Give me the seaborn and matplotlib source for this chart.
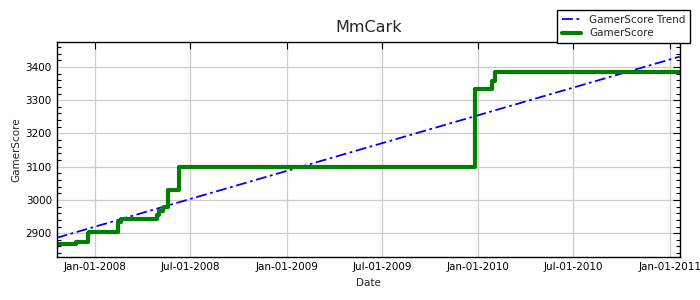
import matplotlib
matplotlib.use("Agg")
import matplotlib.pyplot as plt
import matplotlib.dates as mdates
from matplotlib.ticker import MultipleLocator
import seaborn as sns
import pandas as pd

# Data
score_dates = ["2007-10-20", "2007-11-26", "2007-12-19", "2007-12-21", "2008-02-13",
               "2008-02-19", "2008-04-28", "2008-05-03", "2008-05-09", "2008-05-12",
               "2008-05-20", "2008-06-10", "2009-12-26", "2010-01-27", "2010-02-02",
               "2011-01-20"]
score_values = [2867, 2873, 2900, 2905, 2934, 2944, 2955, 2966, 2975, 2980,
                3030, 3100, 3334, 3359, 3384, 3384]
trend_dates = ["2007-10-20", "2011-01-20"]
trend_values = [2886, 3431]

title = "MmCark"
x_label = "Date"
y_label = "GamerScore"

sns.set_style("white")
plt.rcParams["font.family"] = ["DejaVu Sans"]

df = pd.DataFrame({"Date": pd.to_datetime(score_dates), "GamerScore": score_values})
tr = pd.DataFrame({"Date": pd.to_datetime(trend_dates), "GamerScore": trend_values})

fig = plt.figure(figsize=(7, 3), dpi=100)
ax = fig.add_axes([0.081, 0.143, 0.890, 0.717])

sns.lineplot(data=tr, x="Date", y="GamerScore", ax=ax, color="blue",
             linestyle=(0, (6, 2, 1.5, 2)), linewidth=1.3, label="GamerScore Trend")
sns.lineplot(data=df, x="Date", y="GamerScore", ax=ax, color="green",
             linewidth=3, drawstyle="steps-post", label="GamerScore")

ax.set_xlim(pd.Timestamp("2007-10-20"), pd.Timestamp("2011-01-20"))
ax.set_ylim(2828, 3475)
ax.xaxis.set_major_locator(mdates.MonthLocator(bymonth=[1, 7]))
ax.xaxis.set_major_formatter(mdates.DateFormatter("%b-%d-%Y"))
ax.yaxis.set_major_locator(MultipleLocator(100))
ax.yaxis.set_minor_locator(MultipleLocator(20))
ax.grid(True, which="major", color="#cccccc", linewidth=0.9)
ax.tick_params(which="both", direction="in", top=True, right=True, labelsize=7.5,
               colors="black")
ax.tick_params(which="major", length=5, width=0.8)
ax.tick_params(which="minor", length=3, width=0.8, left=True, right=True)
for s in ax.spines.values():
    s.set_color("black")
    s.set_linewidth(1)
ax.set_title(title, fontsize=11.5, pad=7)
ax.set_xlabel(x_label, fontsize=7.5, labelpad=4)
ax.set_ylabel(y_label, fontsize=7.5, labelpad=3)

ax.get_legend().remove()
handles, labels = ax.get_legend_handles_labels()
leg = fig.legend(handles, labels, loc="upper right", bbox_to_anchor=(0.986, 0.967),
                 borderaxespad=0, fontsize=7.5, frameon=True, fancybox=False,
                 edgecolor="black", handlelength=1.8, handletextpad=0.8,
                 borderpad=0.45, labelspacing=0.35, framealpha=1)
leg.get_frame().set_linewidth(1)

fig.savefig("out.png", dpi=100)
